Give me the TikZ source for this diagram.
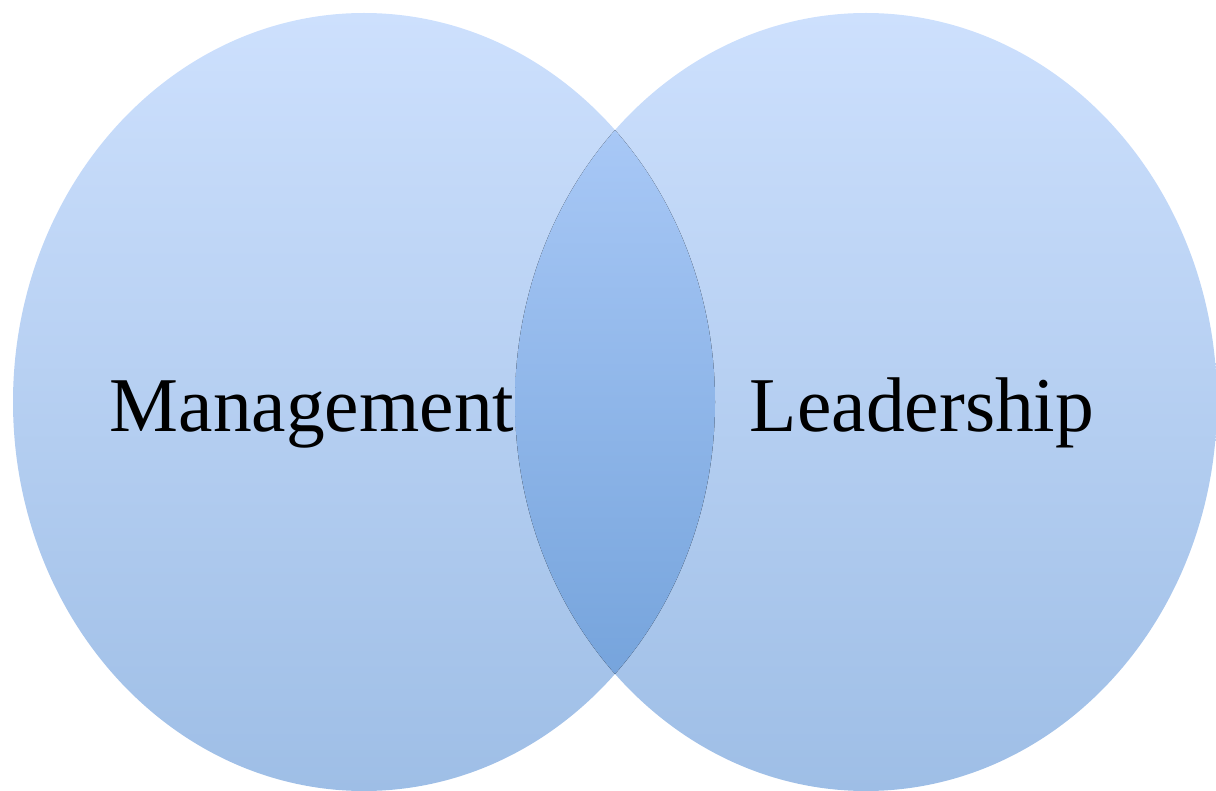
\documentclass[tikz,border=0pt]{standalone}
\usepackage{fontspec}
\setmainfont{Liberation Serif}
\usetikzlibrary{shapes.geometric}
\definecolor{etop}{RGB}{205,224,253}
\definecolor{ebot}{RGB}{158,190,230}
\definecolor{ltop}{RGB}{168,200,246}
\definecolor{lbot}{RGB}{118,164,220}
\tikzset{
  setcircle/.style={ellipse, inner sep=0pt, minimum width=702pt, minimum height=778pt, top color=etop, bottom color=ebot, draw=none},
  setlabel/.style={anchor=base, inner sep=0pt, font=\fontsize{77.5}{84}\selectfont, text=black}
}
\begin{document}
\begin{tikzpicture}[x=1pt,y=-1pt]
\useasboundingbox (0,0) rectangle (1216,791);
\node[setcircle] (left) at (364,402) {};
\node[setcircle] (right) at (866,402) {};
\begin{scope}
  \clip (364,402) ellipse [x radius=351, y radius=389];
  \clip (866,402) ellipse [x radius=351, y radius=389];
  \fill[top color=ltop, bottom color=lbot] (510,128) rectangle (722,676);
\end{scope}
\node[setlabel] (mgmt) at (312,432) {Management};
\node[setlabel] (lead) at (922,432) {Leadership};
\end{tikzpicture}
\end{document}
